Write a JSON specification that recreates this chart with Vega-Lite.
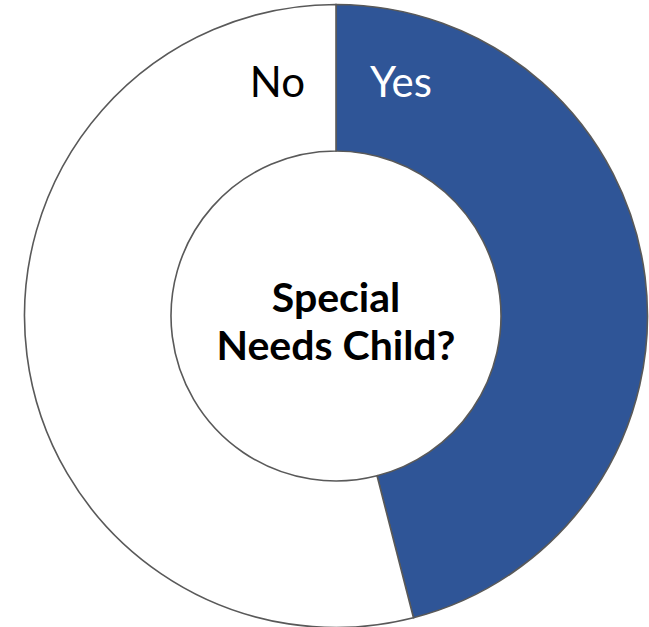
{
  "$schema": "https://vega.github.io/schema/vega-lite/v6.json",
  "autosize": {"type": "fit", "contains": "padding"},
  "width": 649,
  "height": 627,
  "padding": {"left": 24, "top": 5, "right": 1, "bottom": 0},
  "background": "white",
  "config": {"view": {"stroke": null}},
  "data": {"values": [
    {"answer": "Yes", "share": 46},
    {"answer": "No", "share": 54}
  ]},
  "layer": [
    {
      "mark": {"type": "arc", "innerRadius": 165, "outerRadius": 311.5, "stroke": "#595959", "strokeWidth": 1.6},
      "encoding": {
        "theta": {"field": "share", "type": "quantitative", "stack": true},
        "order": {"field": "answer", "sort": "descending"},
        "color": {"field": "answer", "type": "nominal", "scale": {"domain": ["Yes", "No"], "range": ["#2F5597", "#FFFFFF"]}, "legend": null}
      }
    },
    {
      "transform": [{"filter": "datum.answer === 'Yes'"}],
      "mark": {"type": "text", "theta": 0, "radius": 232, "align": "left", "baseline": "middle", "dx": 34, "font": "Lato", "fontSize": 42, "color": "white"},
      "encoding": {"text": {"field": "answer"}}
    },
    {
      "transform": [{"filter": "datum.answer === 'No'"}],
      "mark": {"type": "text", "theta": 0, "radius": 232, "align": "right", "baseline": "middle", "dx": -31, "font": "Lato", "fontSize": 42, "color": "black"},
      "encoding": {"text": {"field": "answer"}}
    },
    {
      "transform": [{"filter": "datum.answer === 'Yes'"}],
      "mark": {"type": "text", "align": "center", "baseline": "middle", "dy": -16, "lineHeight": 48, "font": "Lato", "fontWeight": "bold", "fontSize": 41, "color": "black"},
      "encoding": {"text": {"value": ["Special", "Needs Child?"]}}
    }
  ]
}
